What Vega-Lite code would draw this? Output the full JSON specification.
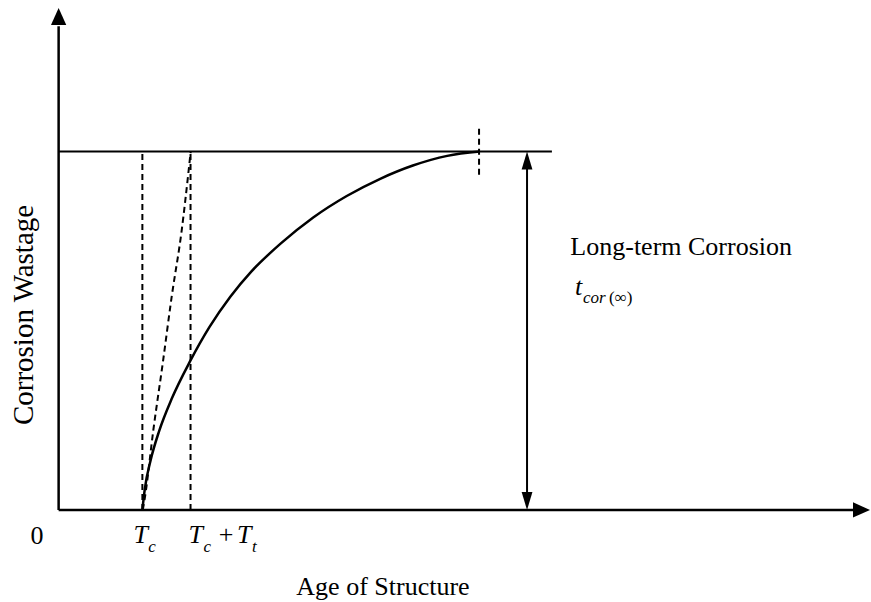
{
  "$schema": "https://vega.github.io/schema/vega-lite/v6.json",
  "width": 871,
  "height": 602,
  "autosize": {"type": "fit", "contains": "padding"},
  "padding": 0,
  "background": "white",
  "config": {"view": {"stroke": null}},
  "encoding": {
    "x": {"field": "x", "type": "quantitative", "axis": null, "scale": {"domain": [-7, 97], "nice": false, "zero": false}},
    "y": {"field": "y", "type": "quantitative", "axis": null, "scale": {"domain": [-25.7, 142.3], "nice": false, "zero": false}}
  },
  "layer": [
    {
      "data": {"values": [{"x": 0, "y": 0, "y2": 135}]},
      "mark": {"type": "rule", "color": "black", "strokeWidth": 2.5},
      "encoding": {"y2": {"field": "y2"}}
    },
    {
      "data": {"values": [{"x": 0, "x2": 95, "y": 0}]},
      "mark": {"type": "rule", "color": "black", "strokeWidth": 2.5},
      "encoding": {"x2": {"field": "x2"}}
    },
    {
      "data": {"values": [{"x": 0, "x2": 58.9, "y": 100}]},
      "mark": {"type": "rule", "color": "black", "strokeWidth": 2},
      "encoding": {"x2": {"field": "x2"}}
    },
    {
      "data": {"values": [{"x": 10, "y": 0, "y2": 100}, {"x": 15.75, "y": 0, "y2": 100}, {"x": 50.2, "y": 93.5, "y2": 107.4}]},
      "mark": {"type": "rule", "color": "black", "strokeWidth": 2, "strokeDash": [6, 4]},
      "encoding": {"y2": {"field": "y2"}}
    },
    {
      "data": {"values": [{"x": 55.93, "y": 2, "y2": 98}]},
      "mark": {"type": "rule", "color": "black", "strokeWidth": 2},
      "encoding": {"y2": {"field": "y2"}}
    },
    {
      "data": {"values": [
        {"x": 10.0, "y": 0},
        {"x": 10.3, "y": 6},
        {"x": 11.0, "y": 14},
        {"x": 12.0, "y": 22},
        {"x": 13.5, "y": 31},
        {"x": 15.7, "y": 41.5},
        {"x": 18.0, "y": 51},
        {"x": 20.5, "y": 59.5},
        {"x": 23.0, "y": 66.5},
        {"x": 26.5, "y": 74.3},
        {"x": 30.4, "y": 81.6},
        {"x": 34.4, "y": 87.6},
        {"x": 38.4, "y": 92.4},
        {"x": 42.3, "y": 96.1},
        {"x": 46.4, "y": 98.8},
        {"x": 50.3, "y": 100}
      ]},
      "mark": {"type": "line", "color": "black", "strokeWidth": 2.5, "interpolate": "monotone"}
    },
    {
      "data": {"values": [
        {"x": 10.05, "y": 0},
        {"x": 10.31, "y": 3.6},
        {"x": 11.31, "y": 22.3},
        {"x": 12.43, "y": 40.9},
        {"x": 13.5, "y": 59.5},
        {"x": 14.7, "y": 78.1},
        {"x": 15.49, "y": 94.0},
        {"x": 15.77, "y": 100}
      ]},
      "mark": {"type": "line", "color": "black", "strokeWidth": 2, "strokeDash": [6, 4], "interpolate": "monotone"}
    },
    {
      "data": {"values": [{"x": 0, "y": 140.1}]},
      "mark": {"type": "point", "shape": "M0,0L-0.9,2L0.9,2Z", "size": 289, "filled": true, "color": "black", "opacity": 1, "strokeWidth": 0}
    },
    {
      "data": {"values": [{"x": 96.88, "y": 0}]},
      "mark": {"type": "point", "shape": "M0,0L-0.9,2L0.9,2Z", "size": 289, "angle": 90, "filled": true, "color": "black", "opacity": 1, "strokeWidth": 0}
    },
    {
      "data": {"values": [{"x": 55.93, "y": 100}]},
      "mark": {"type": "point", "shape": "M0,0L-0.6,2L0.6,2Z", "size": 324, "filled": true, "color": "black", "opacity": 1, "strokeWidth": 0}
    },
    {
      "data": {"values": [{"x": 55.93, "y": 0}]},
      "mark": {"type": "point", "shape": "M0,0L-0.6,2L0.6,2Z", "size": 324, "angle": 180, "filled": true, "color": "black", "opacity": 1, "strokeWidth": 0}
    },
    {
      "data": {"values": [
        {"x": -2.58, "y": -9.49, "t": "0"},
        {"x": 20.0, "y": -9.2, "t": "+"},
        {"x": 38.73, "y": -23.7, "t": "Age of Structure"}
      ]},
      "mark": {"type": "text", "font": "Liberation Serif", "fontSize": 26, "color": "black", "align": "center", "baseline": "alphabetic"},
      "encoding": {"text": {"field": "t"}}
    },
    {
      "data": {"values": [
        {"x": 61.1, "y": 71.2, "t": "Long-term Corrosion"}
      ]},
      "mark": {"type": "text", "font": "Liberation Serif", "fontSize": 26, "color": "black", "align": "left", "baseline": "alphabetic"},
      "encoding": {"text": {"field": "t"}}
    },
    {
      "data": {"values": [
        {"x": 8.95, "y": -9.2, "t": "T"},
        {"x": 15.52, "y": -9.2, "t": "T"},
        {"x": 21.3, "y": -9.2, "t": "T"},
        {"x": 61.66, "y": 60.0, "t": "t"}
      ]},
      "mark": {"type": "text", "font": "Liberation Serif", "fontStyle": "italic", "fontSize": 26, "color": "black", "align": "left", "baseline": "alphabetic"},
      "encoding": {"text": {"field": "t"}}
    },
    {
      "data": {"values": [
        {"x": 10.7, "y": -11.7, "t": "c"},
        {"x": 17.3, "y": -11.7, "t": "c"},
        {"x": 23.1, "y": -11.7, "t": "t"},
        {"x": 62.6, "y": 57.8, "t": "cor"}
      ]},
      "mark": {"type": "text", "font": "Liberation Serif", "fontStyle": "italic", "fontSize": 17, "color": "black", "align": "left", "baseline": "alphabetic"},
      "encoding": {"text": {"field": "t"}}
    },
    {
      "data": {"values": [
        {"x": 65.72, "y": 57.8, "t": "(∞)"}
      ]},
      "mark": {"type": "text", "font": "Liberation Serif", "fontSize": 17, "color": "black", "align": "left", "baseline": "alphabetic"},
      "encoding": {"text": {"field": "t"}}
    },
    {
      "data": {"values": [
        {"x": -3.06, "y": 54.4, "t": "Corrosion Wastage"}
      ]},
      "mark": {"type": "text", "font": "Liberation Serif", "fontSize": 29, "color": "black", "align": "center", "baseline": "alphabetic", "angle": 270},
      "encoding": {"text": {"field": "t"}}
    }
  ]
}
